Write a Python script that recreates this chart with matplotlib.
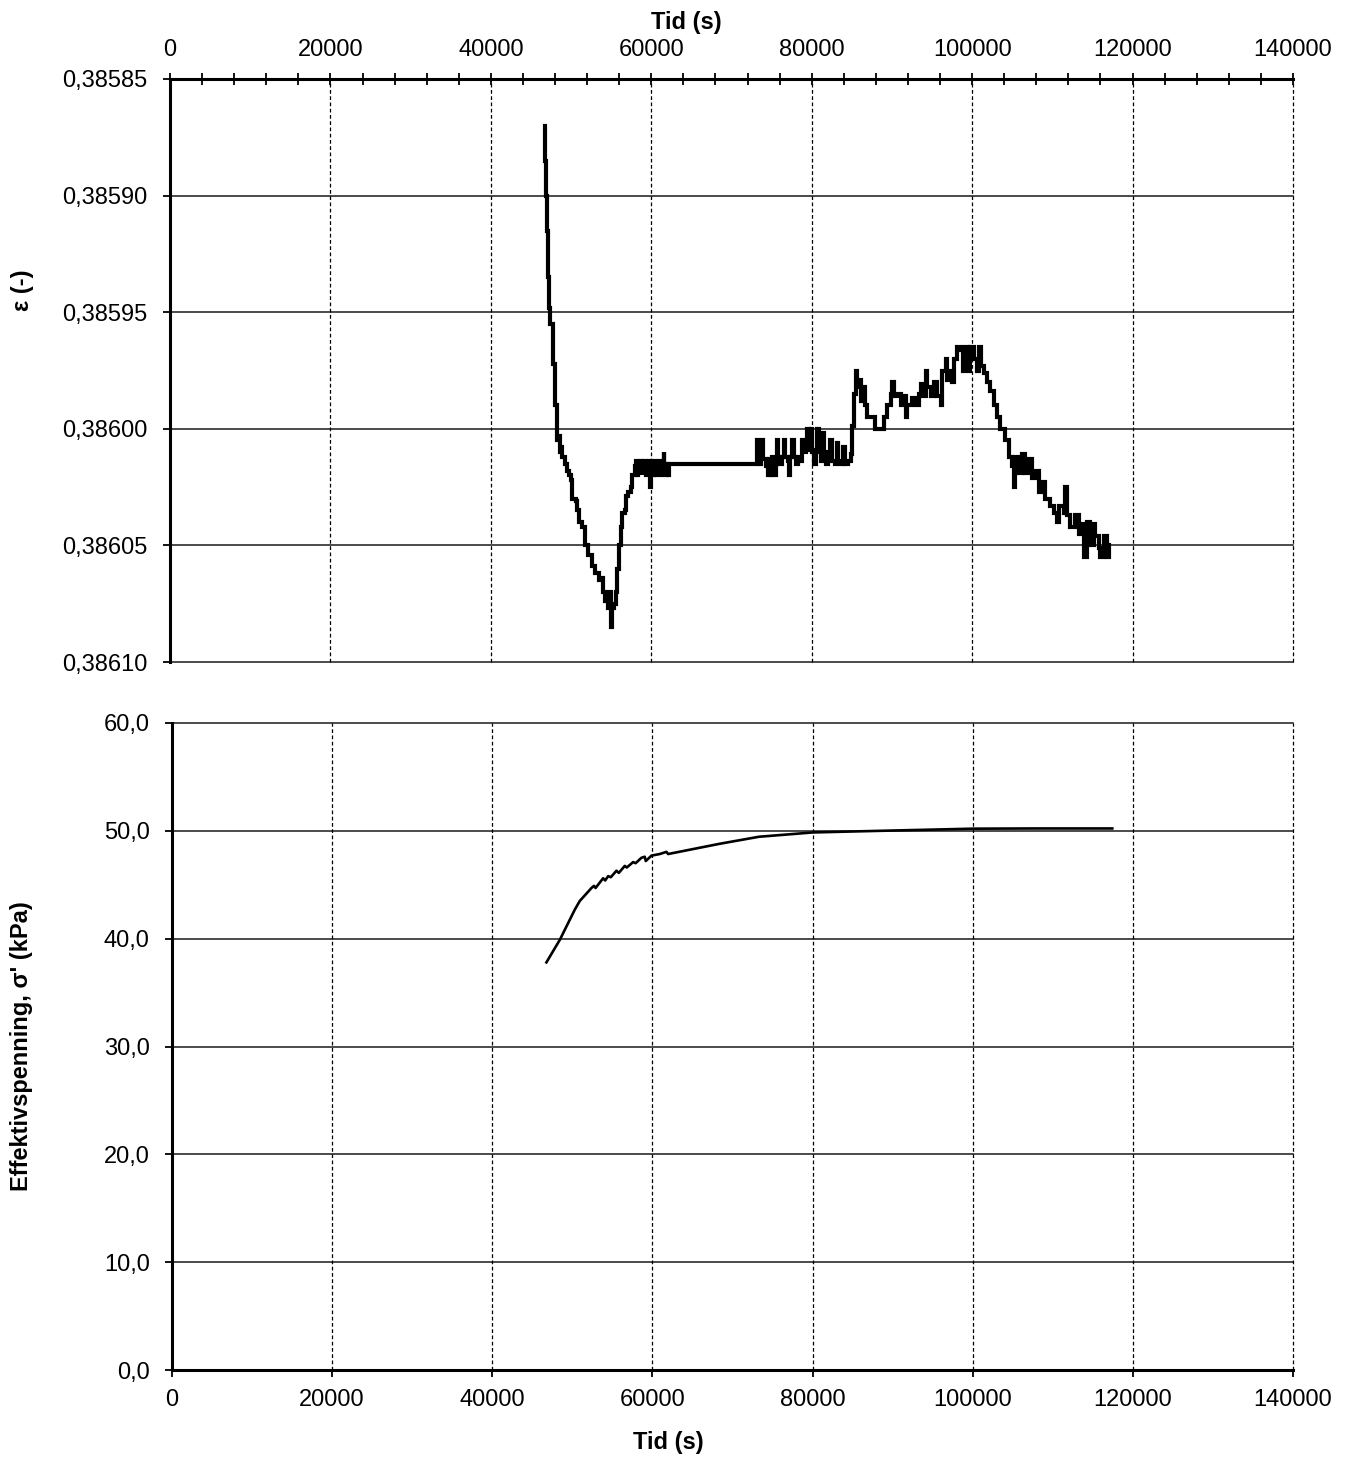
import matplotlib
matplotlib.use("Agg")
import matplotlib.pyplot as plt
from matplotlib.ticker import FuncFormatter, MultipleLocator

plt.rcParams['font.family'] = ['Liberation Sans', 'DejaVu Sans']

# --- Tøyning (ε) mot tid ---
t_eps = [46750, 46800, 46870, 46950, 47080, 47250, 47400, 47700, 48000, 48200,
         48280, 48500, 48600, 48750, 48900, 49200, 49500, 49700, 50000, 50150,
         50600, 50800, 51000, 51400, 51700, 52100, 52600, 53000, 53475, 53765,
         54015, 54180, 54430, 54600, 54765, 54930, 55140, 55345, 55550, 55760,
         55970, 56180, 56385, 56680, 56885, 57090, 57420, 57630, 57920,
         58050, 58150, 58250, 58400, 58550, 58650, 58800, 58900, 59050, 59150,
         59300, 59450, 59600, 59750, 59880, 59950, 60100, 60250, 60400, 60550,
         60700, 60850, 61000, 61150, 61300, 61450, 61550, 61620, 61800, 61950,
         62100, 62250, 62450, 73000,
         73150, 73240, 73330, 73500, 73700, 73860, 73950, 74300, 74500, 74700,
         74900, 75100, 75300, 75500, 75730, 75850, 76100, 76350, 76560, 76700,
         77000, 77180, 77300, 77590, 77750, 78000, 78300, 78600, 78840, 79000,
         79250, 79460, 79600, 79875, 80050, 80300, 80500, 80700, 80900, 81100,
         81330, 81500, 81800, 82000, 82300, 82500, 82900, 83100, 83300, 83600,
         83900, 84100, 84500, 84850,
         85060, 85270, 85480, 85690, 85900, 86100, 86430, 86600, 86930, 87550,
         87840, 88800, 89000, 89420, 89830, 90040, 90250, 90660, 91080, 91290,
         91700, 91910, 92530, 92950, 93360, 93570, 93780, 94190, 94400, 94810,
         95230, 95640, 96060, 96260, 96680, 96890, 97300, 97510, 97720, 98130,
         98550, 98880, 99170, 99580, 99790, 100200, 100620, 100830, 101120, 101450,
         101870, 102280, 102700, 103110, 103520, 104150, 104560, 104980, 105190, 105390,
         105810, 106220, 106640, 107060, 107470, 107880, 108300, 108710, 109130, 109750,
         110160, 110580, 110790, 111410, 111620, 111820, 112240, 112860, 113270, 113480,
         113900, 114310, 114730, 115140, 115350, 115760, 115970, 116390, 116800, 117010]
eps = [0.385870, 0.385885, 0.385900, 0.385915, 0.385935, 0.385948, 0.385955, 0.385972, 0.385990, 0.386000,
       0.386005, 0.386003, 0.386010, 0.386008, 0.386012, 0.386015, 0.386018, 0.386020, 0.386022, 0.386030,
       0.386031, 0.386035, 0.386040, 0.386042, 0.386050, 0.386054, 0.386059, 0.386062, 0.386065, 0.386064,
       0.386070, 0.386074, 0.386072, 0.386077, 0.386070, 0.386085, 0.386077, 0.386075, 0.386070, 0.386060,
       0.386050, 0.386042, 0.386036, 0.386035, 0.386029, 0.386027, 0.386025, 0.386020, 0.386016,
       0.386020, 0.386014, 0.386020, 0.386015, 0.386020, 0.386014, 0.386019, 0.386015, 0.386020, 0.386014,
       0.386020, 0.386015, 0.386019, 0.386014, 0.386025, 0.386018, 0.386014, 0.386020, 0.386015, 0.386020,
       0.386014, 0.386019, 0.386015, 0.386020, 0.386014, 0.386019, 0.386010, 0.386017, 0.386020, 0.386015,
       0.386020, 0.386015, 0.386015, 0.386015,
       0.386012, 0.386005, 0.386012, 0.386015, 0.386012, 0.386005, 0.386013, 0.386016, 0.386020, 0.386013,
       0.386020, 0.386012, 0.386020, 0.386015, 0.386005, 0.386012, 0.386015, 0.386012, 0.386005, 0.386012,
       0.386014, 0.386020, 0.386012, 0.386005, 0.386012, 0.386015, 0.386012, 0.386014, 0.386005, 0.386010,
       0.386008, 0.386000, 0.386009, 0.386000, 0.386010, 0.386015, 0.386009, 0.386000, 0.386010, 0.386014,
       0.386002, 0.386010, 0.386015, 0.386012, 0.386005, 0.386014, 0.386015, 0.386006, 0.386014, 0.386015,
       0.386008, 0.386015, 0.386014, 0.386011,
       0.385999, 0.385985, 0.385975, 0.385982, 0.385979, 0.385988, 0.385982, 0.385990, 0.385995, 0.385995,
       0.386000, 0.386000, 0.385995, 0.385990, 0.385985, 0.385980, 0.385986, 0.385985, 0.385990, 0.385986,
       0.385995, 0.385990, 0.385987, 0.385990, 0.385985, 0.385981, 0.385986, 0.385975, 0.385982, 0.385986,
       0.385980, 0.385986, 0.385990, 0.385975, 0.385970, 0.385979, 0.385975, 0.385980, 0.385970, 0.385965,
       0.385966, 0.385975, 0.385965, 0.385975, 0.385965, 0.385970, 0.385975, 0.385965, 0.385973, 0.385976,
       0.385980, 0.385984, 0.385990, 0.385995, 0.386000, 0.386005, 0.386012, 0.386016, 0.386025, 0.386012,
       0.386019, 0.386011, 0.386019, 0.386013, 0.386021, 0.386018, 0.386027, 0.386023, 0.386030, 0.386033,
       0.386036, 0.386040, 0.386033, 0.386036, 0.386025, 0.386037, 0.386042, 0.386037, 0.386045, 0.386041,
       0.386055, 0.386040, 0.386050, 0.386041, 0.386046, 0.386051, 0.386055, 0.386046, 0.386055, 0.386050]

# --- Effektivspenning mot tid ---
t_sig = [46760, 48440, 50310, 50930, 52390, 52700, 52900, 53840, 54100, 54470,
         54800, 55510, 55800, 56550, 56800, 57590, 57900, 58630, 59040, 59170,
         59875, 60915, 61750, 61960, 68400, 73300, 80000, 88380, 100000, 107930, 117430]
sig = [37.8, 39.9, 42.7, 43.5, 44.7, 44.9, 44.7, 45.6, 45.4, 45.8,
       45.7, 46.3, 46.1, 46.75, 46.6, 47.1, 47.0, 47.5, 47.6, 47.2,
       47.7, 47.85, 48.05, 47.85, 48.8, 49.45, 49.85, 50.0, 50.2, 50.22, 50.22]

x_ticks = [0, 20000, 40000, 60000, 80000, 100000, 120000, 140000]
eps_ticks = [0.38585, 0.38590, 0.38595, 0.38600, 0.38605, 0.38610]
sig_ticks = [0, 10, 20, 30, 40, 50, 60]

W, H = 1349, 1457
fig = plt.figure(figsize=(W / 100, H / 100), dpi=100)


def box(l, t, r, b):
    return [l / W, 1 - b / H, (r - l) / W, (b - t) / H]


ax1 = fig.add_axes(box(170, 79, 1293, 662))
ax2 = fig.add_axes(box(172, 723, 1293, 1370))

FS = 17
hgrid = dict(color='#1a1a1a', lw=1.1, clip_on=False, zorder=1)
vgrid = dict(color='black', lw=0.9, linestyle=(0, (3, 2)), clip_on=False, zorder=1)

# Øvre diagram: måleverdiene holdes til neste registrering
ax1.plot(t_eps, eps, color='black', lw=3.0, drawstyle='steps-post',
         solid_joinstyle='miter', zorder=3)
ax1.set_xlim(0, 140000)
ax1.set_ylim(0.38610, 0.38585)
for y in eps_ticks:
    ax1.axhline(y, **hgrid)
for x in x_ticks:
    ax1.axvline(x, **vgrid)
ax1.set_xticks(x_ticks)
ax1.xaxis.set_minor_locator(MultipleLocator(4000))
ax1.set_yticks(eps_ticks)
ax1.xaxis.tick_top()
ax1.tick_params(axis='x', which='both', direction='inout', length=8, width=1.3,
                labelsize=FS, pad=9, top=True, bottom=False)
ax1.tick_params(axis='y', direction='out', length=5, width=1.3, labelsize=FS, pad=11)
ax1.yaxis.set_major_formatter(FuncFormatter(lambda v, p: f"{v:.5f}".replace('.', ',')))
ax1.xaxis.set_major_formatter(FuncFormatter(lambda v, p: f"{v:.0f}"))
for s in ['right', 'bottom']:
    ax1.spines[s].set_visible(False)
for s in ['top', 'left']:
    ax1.spines[s].set_linewidth(2.2)
    ax1.spines[s].set_zorder(4)

# Nedre diagram
ax2.plot(t_sig, sig, color='black', lw=1.9, zorder=3)
ax2.set_xlim(0, 140000)
ax2.set_ylim(0, 60)
for y in sig_ticks:
    ax2.axhline(y, **hgrid)
for x in x_ticks:
    ax2.axvline(x, **vgrid)
ax2.set_xticks(x_ticks)
ax2.set_yticks(sig_ticks)
ax2.tick_params(axis='x', direction='out', length=5, width=1.3, labelsize=FS, pad=9)
ax2.tick_params(axis='y', direction='out', length=5, width=1.3, labelsize=FS, pad=11)
ax2.yaxis.set_major_formatter(FuncFormatter(lambda v, p: f"{v:.1f}".replace('.', ',')))
ax2.xaxis.set_major_formatter(FuncFormatter(lambda v, p: f"{v:.0f}"))
for s in ['right', 'top']:
    ax2.spines[s].set_visible(False)
for s in ['bottom', 'left']:
    ax2.spines[s].set_linewidth(2.2)
    ax2.spines[s].set_zorder(4)

fig.text(686 / W, 1 - 22 / H, "Tid (s)", ha='center', va='center', fontsize=FS, fontweight='bold')
fig.text(668 / W, 1 - 1442 / H, "Tid (s)", ha='center', va='center', fontsize=FS, fontweight='bold')
fig.text(22 / W, 1 - 290 / H, "ε (-)", ha='center', va='center', rotation=90, fontsize=FS, fontweight='bold')
fig.text(22 / W, 1 - 1046 / H, "Effektivspenning, σ' (kPa)", ha='center', va='center',
         rotation=90, fontsize=FS, fontweight='bold')

fig.savefig("out.png", dpi=100)
